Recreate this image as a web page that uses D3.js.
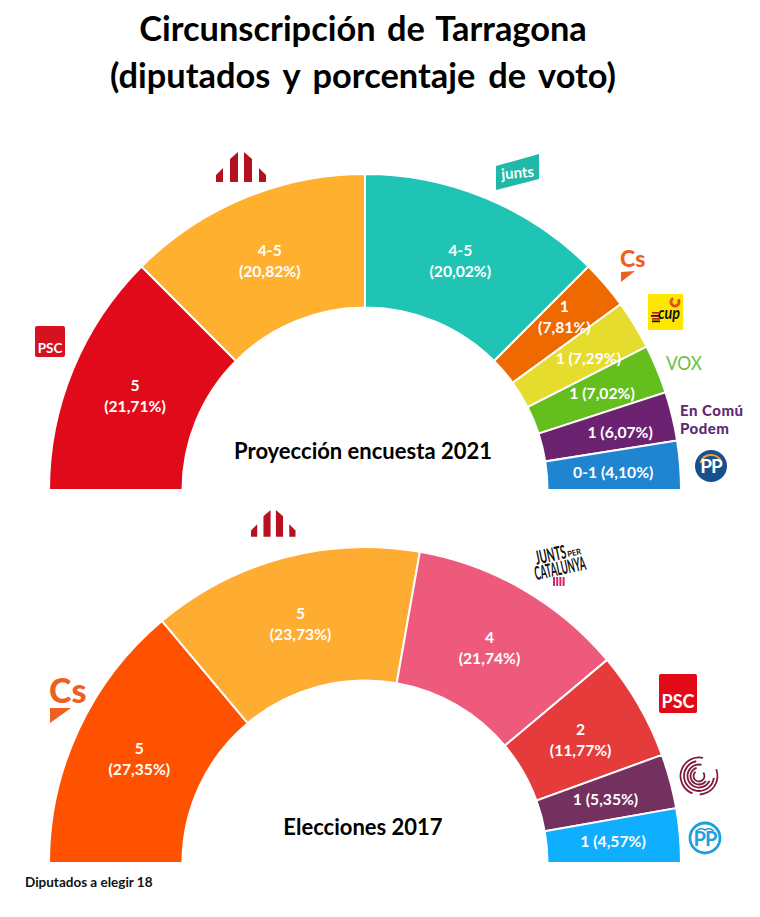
<!DOCTYPE html>
<html><head><meta charset="utf-8">
<script src="https://cdn.jsdelivr.net/npm/d3@7/dist/d3.min.js"></script>
<style>html,body{margin:0;padding:0;background:#fff}svg{display:block}text{font-family:Lato,"Open Sans",sans-serif}</style>
</head><body><svg id="c" width="760" height="917"></svg>
<script>
// Data: top chart (2021 poll projection)
const pollParties = ["PSC","ERC","Junts","Cs","CUP","Vox","En Comú Podem","PP"];
const pollSeats   = ["5","4-5","4-5","1","1","1","1","0-1"];
const pollPct     = ["21,71%","20,82%","20,02%","7,81%","7,29%","7,02%","6,07%","4,10%"];
const pollArcUnits= [5,5,5,1,1,1,1,1];
const pollColors  = ["#E10A1A","#FFB02E","#20C4B4","#EE6A00","#E6DC2E","#63BE1E","#6B2270","#1F85D0"];
const pollTwoLine = [true,true,true,true,false,false,false,false];
// Data: bottom chart (2017 election)
const electionParties = ["Cs","ERC","JuntsxCat","PSC","CatComú","PP"];
const electionSeats   = ["5","5","4","2","1","1"];
const electionPct     = ["27,35%","23,73%","21,74%","11,77%","5,35%","4,57%"];
const electionArcUnits= [5,5,4,2,1,1];
const electionColors  = ["#FF5200","#FFAC33","#EE5A7C","#E63B3B","#74305F","#10AEFF"];
const electionTwoLine = [true,true,true,true,false,false];

const titleLines = ["Circunscripción de Tarragona","(diputados y porcentaje de voto)"];
const footer = "Diputados a elegir 18";

const svg = d3.select("#c");
const cx = 365, outerR = 316, innerR = 182.5, labelR = 249;
const pollNudge = [[0,0],[0,0],[0,0],[10,-12],[11,-2],[7,-2],[13,0],[0,2]];
const noNudge = electionSeats.map(()=>[0,0]);

function hemi(baseY, units, colors, seats, pct, twoLine, nudge, caption, capY){
  const g = svg.append("g").attr("transform",`translate(${cx},${baseY})`);
  const pie = d3.pie().sort(null).startAngle(-Math.PI/2).endAngle(Math.PI/2);
  const arc = d3.arc().innerRadius(innerR).outerRadius(outerR);
  const arcs = pie(units);
  g.selectAll("path").data(arcs).join("path").attr("d",arc)
    .attr("fill",(d,i)=>colors[i]).attr("stroke","#fff").attr("stroke-width",2);
  arcs.forEach((d,i)=>{
    const [x,y] = d3.arc().innerRadius(labelR).outerRadius(labelR).centroid(d);
    const tx = x+nudge[i][0], ty = y+nudge[i][1];
    const t = g.append("text").attr("text-anchor","middle").attr("fill","#fff")
      .attr("font-weight",700).attr("font-size",15.7);
    if(twoLine[i]){
      t.append("tspan").attr("x",tx).attr("y",ty-4).text(seats[i]);
      t.append("tspan").attr("x",tx).attr("y",ty+17).text(`(${pct[i]})`);
    } else {
      t.attr("x",tx).attr("y",ty+6).text(`${seats[i]} (${pct[i]})`);
    }
  });
  svg.append("text").attr("x",cx-2).attr("y",capY).attr("text-anchor","middle")
    .attr("font-weight",700).attr("font-size",22).attr("fill","#000").text(caption);
}

svg.selectAll("text.title").data(titleLines).join("text").attr("class","title")
  .attr("x",363).attr("y",(d,i)=>i?88:41).attr("text-anchor","middle")
  .attr("font-weight",700).attr("font-size",34.4).attr("word-spacing",(d,i)=>i?4.5:3).attr("fill","#000").text(d=>d);

hemi(490,pollArcUnits,pollColors,pollSeats,pollPct,pollTwoLine,pollNudge,"Proyección encuesta 2021",459);
hemi(863,electionArcUnits,electionColors,electionSeats,electionPct,electionTwoLine,noNudge,"Elecciones 2017",835);

svg.append("text").attr("x",25).attr("y",887).attr("font-weight",700).attr("font-size",13.5).attr("fill","#111").text(footer);

// Party logos (approximated as vector shapes + text)
function erc(x,y,s){
  const g=svg.append("g").attr("transform",`translate(${x},${y}) scale(${s})`).attr("fill","#B5121F");
  [[[0,30],[0,23],[7,16],[7,30]],[[14,30],[14,7],[22,0],[22,30]],[[28,30],[28,0],[36,7],[36,30]],[[43,30],[43,16],[50,23],[50,30]]]
   .forEach(p=>g.append("polygon").attr("points",p.join(" ")));
}
erc(216,152,1); erc(251,510,0.89);

function cs(x,base,size,tri){
  svg.append("text").attr("x",x).attr("y",base).attr("font-size",size).attr("font-weight",900).attr("fill","#EF5F1F").attr("font-family","Lato").text("Cs");
  svg.append("polygon").attr("points",tri.join(" ")).attr("fill","#EF5F1F");
}
cs(620,267,23,[[621,272],[635,271],[621,282]]);
cs(49,703,34,[[50,708],[71,708],[50,723]]);

function psc(x,y,w,h,fs,col){
  svg.append("rect").attr("x",x).attr("y",y).attr("width",w).attr("height",h).attr("rx",2).attr("fill",col);
  svg.append("text").attr("x",x+w/2).attr("y",y+h-fs*0.3).attr("text-anchor","middle").attr("font-weight",700).attr("font-size",fs).attr("font-family","Liberation Sans").attr("fill","#fff").text("PSC");
}
psc(35,326,30,31,13.5,"#D5121E");
psc(659,674,38,39,18,"#E30A17");

// junts
svg.append("polygon").attr("points","496,166 539,154 539,179 496,190").attr("fill","#20B9A7");
svg.append("text").attr("transform","translate(518,178) rotate(-5)").attr("text-anchor","middle").attr("font-size",15).attr("font-weight",700).attr("fill","#fff").text("junts");

// CUP
svg.append("rect").attr("x",648).attr("y",294).attr("width",35).attr("height",36).attr("fill","#FFE600");
svg.append("path").attr("d",d3.arc()({innerRadius:2.5,outerRadius:5.5,startAngle:0.9,endAngle:5.8})).attr("transform","translate(675,302)").attr("fill","#E2501A");
svg.append("text").attr("x",658).attr("y",319).attr("font-size",17).attr("font-style","italic").attr("font-weight",700).attr("font-family","Liberation Sans").attr("textLength",22).attr("lengthAdjust","spacingAndGlyphs").attr("fill","#111").text("cup");
[[652,312,"#C8201A"],[651,315,"#111"],[652,318,"#C8201A"],[652,320.5,"#111"]].forEach(r=>svg.append("rect").attr("x",r[0]).attr("y",r[1]).attr("width",8).attr("height",1.7).attr("fill",r[2]));

// VOX
svg.append("text").attr("x",666).attr("y",370).attr("font-size",19.5).attr("font-family","Liberation Sans").attr("textLength",36).attr("lengthAdjust","spacingAndGlyphs").attr("fill","#6DBE45").text("VOX");

// En Comú Podem
const ecp = svg.append("text").attr("font-size",15).attr("font-weight",900).attr("letter-spacing",0.5).attr("fill","#5F2A75");
["En Comú","Podem"].forEach((t,i)=>ecp.append("tspan").attr("x",680).attr("y",416+i*18).text(t));

// PP top
svg.append("circle").attr("cx",711).attr("cy",466).attr("r",16).attr("fill","#16508F");
svg.append("path").attr("transform","translate(711,466)").attr("d",d3.arc()({innerRadius:10,outerRadius:12,startAngle:-1.3,endAngle:1.1})).attr("fill","#F0A030");
svg.append("text").attr("x",711).attr("y",473).attr("text-anchor","middle").attr("font-size",19).attr("font-weight",700).attr("letter-spacing",-1).attr("fill","#fff").text("PP");

// PP bottom
svg.append("circle").attr("cx",705).attr("cy",838).attr("r",15).attr("fill","#fff").attr("stroke","#1DA1DC").attr("stroke-width",2.8);
svg.append("path").attr("transform","translate(705,838)").attr("d","M-9,-7 Q-4,-11 0,-8 Q4,-11 9,-7").attr("fill","none").attr("stroke","#1DA1DC").attr("stroke-width",1.6);
svg.append("text").attr("x",705).attr("y",846).attr("text-anchor","middle").attr("font-size",20).attr("font-weight",700).attr("letter-spacing",-1).attr("fill","#1DA1DC").text("PP");

// Comú logo
[[18.5,3.5,6.5],[18.5,1.2,3.1],[15,1.7,6.1],[11.5,2.0,6.5],[8.5,2.2,6.0],[5.5,0.9,5.6]].forEach(a=>{
  svg.append("path").attr("transform","translate(699,776)")
    .attr("d",d3.arc()({innerRadius:a[0]-0.9,outerRadius:a[0]+0.9,startAngle:a[1],endAngle:a[2]})).attr("fill","#7E1B3A");
});

// JxCat logo
const jx=svg.append("g").attr("transform","translate(559,563) rotate(-12)");
const jxFont="Liberation Sans";
jx.append("text").attr("x",-22).attr("y",-3).attr("font-size",19).attr("font-weight",700).attr("font-family",jxFont).attr("textLength",31).attr("lengthAdjust","spacingAndGlyphs").attr("fill","#111").text("JUNTS");
jx.append("text").attr("x",10).attr("y",-4).attr("font-size",8).attr("font-weight",700).attr("font-family",jxFont).attr("textLength",14).attr("lengthAdjust","spacingAndGlyphs").attr("fill","#111").text("PER");
jx.append("text").attr("x",-26).attr("y",12).attr("font-size",19).attr("font-weight",700).attr("font-family",jxFont).attr("textLength",52).attr("lengthAdjust","spacingAndGlyphs").attr("fill","#111").text("CATALUNYA");
d3.range(4).forEach(i=>svg.append("rect").attr("x",553+i*3.2).attr("y",577).attr("width",2).attr("height",9).attr("fill","#D6246E"));
</script></body></html>
